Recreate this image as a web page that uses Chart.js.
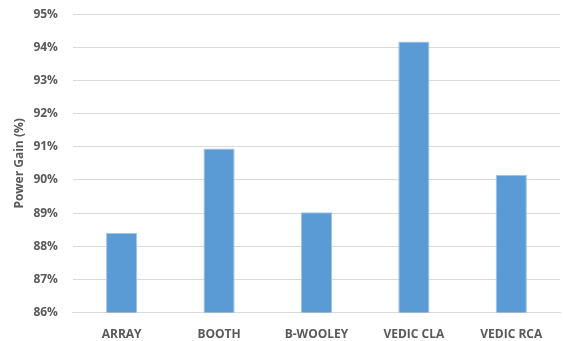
<!DOCTYPE html>
<html>
<head>
<meta charset="utf-8">
<script src="https://cdn.jsdelivr.net/npm/chart.js@4"></script>
<style>
  html, body { margin: 0; padding: 0; background: #fff; }
  #wrap { width: 563px; height: 341px; }
</style>
</head>
<body>
<div id="wrap"><canvas id="gainChart"></canvas></div>
<script>
// data
const categories = ['ARRAY', 'BOOTH', 'B-WOOLEY', 'VEDIC CLA', 'VEDIC RCA'];
const powerGain = [88.4, 90.95, 89.03, 94.18, 90.15];
const yMin = 86;
const yMax = 95;

const tickColor = '#595959';
const tickFont = { family: 'Open Sans', size: 12, weight: 'bold' };

new Chart(document.getElementById('gainChart'), {
  type: 'bar',
  data: {
    labels: categories,
    datasets: [{
      label: 'Power Gain',
      data: powerGain,
      backgroundColor: '#5B9BD5',
      borderColor: '#9DC3E6',
      borderWidth: 1,
      borderSkipped: 'bottom',
      categoryPercentage: 1,
      barPercentage: 0.32
    }]
  },
  options: {
    responsive: true,
    maintainAspectRatio: false,
    animation: false,
    layout: { padding: { left: 12, right: 3, top: 0, bottom: -8 } },
    plugins: {
      legend: { display: false },
      tooltip: { enabled: false }
    },
    scales: {
      x: {
        grid: { display: false },
        border: { color: '#d9d9d9' },
        ticks: { color: tickColor, font: tickFont, padding: 7, maxRotation: 0 }
      },
      y: {
        min: yMin,
        max: yMax,
        grid: { color: '#d9d9d9', drawTicks: true, tickLength: 8, tickColor: 'rgba(0,0,0,0)' },
        border: { display: false },
        ticks: {
          stepSize: 1,
          color: tickColor,
          font: tickFont,
          padding: 7,
          callback: v => v + '%'
        },
        title: {
          display: true,
          text: 'Power Gain (%)',
          color: tickColor,
          font: tickFont,
          padding: 0
        }
      }
    }
  }
});
</script>
</body>
</html>
